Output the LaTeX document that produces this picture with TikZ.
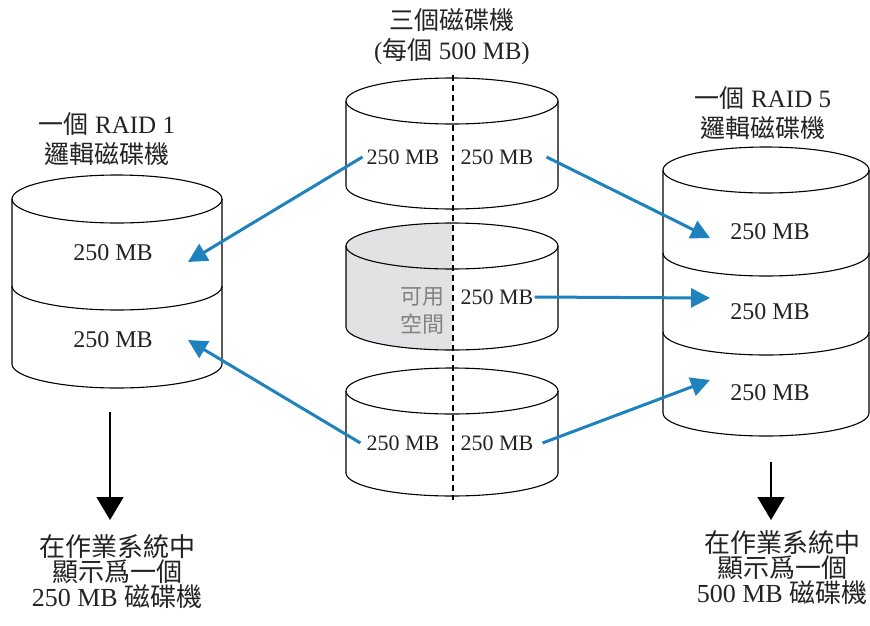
\documentclass[tikz,border=0pt]{standalone}
\usepackage{fontspec}
\setmainfont{Liberation Serif}
\newfontfamily\cjk{Noto Sans CJK TC}
\usetikzlibrary{arrows.meta}
\definecolor{arrowblue}{RGB}{30,130,190}
\definecolor{txt}{RGB}{35,35,35}
\definecolor{freegray}{RGB}{226,226,228}
\definecolor{freetxt}{RGB}{130,130,130}
\newcommand\tightlines{\lineskiplimit=-20pt\relax}
\newcommand\drawcylbody[5]{% cx, rx, ry, top y, bottom y (canvas y, negative)
  \draw[cyl] (#1,#4) ellipse[x radius=#2, y radius=#3];
  \draw[cyl] (#1-#2,#4) -- (#1-#2,#5) arc[start angle=180, end angle=360, x radius=#2, y radius=#3] -- (#1+#2,#4);
}
\newcommand\drawseam[4]{% cx, rx, ry, y
  \draw[cyl] (#1-#2,#4) arc[start angle=180, end angle=360, x radius=#2, y radius=#3];
}
\begin{document}
\begin{tikzpicture}[x=1pt,y=1pt,
  cyl/.style={draw=black, line width=1.1pt},
  lbl/.style={font={\fontsize{24}{28}\selectfont}, text=txt, inner sep=1pt},
  mlbl/.style={font={\fontsize{22}{28}\selectfont}, text=txt, inner sep=1pt},
  titletxt/.style={font={\fontsize{25}{30}\selectfont\tightlines}, text=txt, align=center, inner sep=0pt},
  btxt/.style={font={\fontsize{26}{25}\selectfont\tightlines}, text=txt, align=center, inner sep=0pt},
  bluearrow/.style={draw=arrowblue, line width=3pt, -{Triangle[length=19pt,width=19pt]}},
  blackarrow/.style={draw=black, line width=1.4pt, -{Triangle[length=23pt,width=27pt]}},
  divider/.style={draw=black, line width=1.1pt, dash pattern=on 6pt off 4pt},
]
\useasboundingbox (0,0) rectangle (870,-625);
\fill[white] (0,0) rectangle (870,-625);

% gray free space (left half of middle disk)
\fill[freegray] (452,-223) arc[start angle=90, end angle=180, x radius=106, y radius=23]
  -- (346,-327) arc[start angle=180, end angle=270, x radius=106, y radius=23] -- cycle;

% left RAID 1 cylinder
\drawcylbody{117}{105}{24}{-199}{-364}
\drawseam{117}{105}{24}{-286}

% middle disks
\drawcylbody{452}{106}{23}{-101}{-186}
\drawcylbody{452}{106}{23}{-246}{-327}
\drawcylbody{452}{106}{23}{-391}{-473}

% right RAID 5 cylinder
\drawcylbody{766}{103}{23}{-170}{-413}
\drawseam{766}{103}{23}{-253}
\drawseam{766}{103}{23}{-332}

% dashed divider
\coordinate (dtop) at (453,-75);
\coordinate (dbot) at (453,-500);
\draw[divider] (dtop) -- (dbot);

% titles
\node[titletxt] (ttop) at (452,-37) {{\cjk 三個磁碟機}\\({\cjk 每個} 500 MB)};
\node[titletxt] (tleft) at (107,-139) {{\cjk 一個} RAID 1\\{\cjk 邏輯磁碟機}};
\node[titletxt] (tright) at (763,-113) {{\cjk 一個} RAID 5\\{\cjk 邏輯磁碟機}};

% left cylinder labels
\node[lbl] (r1a) at (113,-253) {250 MB};
\node[lbl] (r1b) at (113,-340) {250 MB};

% middle labels
\node[mlbl] (m1l) at (403,-157) {250 MB};
\node[mlbl] (m1r) at (497,-157) {250 MB};
\node[mlbl, text=freetxt, align=right, font={\fontsize{22}{28}\selectfont\cjk}] (m2g) at (422,-311) {可用\\空間};
\node[mlbl] (m2r) at (497,-297) {250 MB};
\node[mlbl] (m3l) at (403,-443) {250 MB};
\node[mlbl] (m3r) at (497,-443) {250 MB};

% right cylinder labels
\node[lbl] (r5a) at (770,-232) {250 MB};
\node[lbl] (r5b) at (770,-312) {250 MB};
\node[lbl] (r5c) at (770,-393) {250 MB};

% arrow tips
\coordinate (tA) at (188,-262);
\coordinate (tB) at (188,-340);
\coordinate (tC) at (710,-238);
\coordinate (tD) at (710,-298);
\coordinate (tE) at (710,-380);

\draw[bluearrow] ([xshift=-3pt]m1l.west) -- (tA);
\draw[bluearrow] ([xshift=-5pt]m3l.west) -- (tB);
\draw[bluearrow] ([xshift=12pt]m1r.east) -- (tC);
\draw[bluearrow] (m2r.east) -- (tD);
\draw[bluearrow] ([xshift=8pt]m3r.east) -- (tE);

% bottom arrows and texts
\coordinate (lA) at (110,-412);
\coordinate (lB) at (110,-520);
\coordinate (rA) at (771,-462);
\coordinate (rB) at (771,-520);
\draw[blackarrow] (lA) -- (lB);
\draw[blackarrow] (rA) -- (rB);

\node[btxt] (bl) at (117,-572) {{\cjk 在作業系統中}\\{\cjk 顯示爲一個}\\250 MB {\cjk 磁碟機}};
\node[btxt] (br) at (782,-568) {{\cjk 在作業系統中}\\{\cjk 顯示爲一個}\\500 MB {\cjk 磁碟機}};
\end{tikzpicture}
\end{document}
